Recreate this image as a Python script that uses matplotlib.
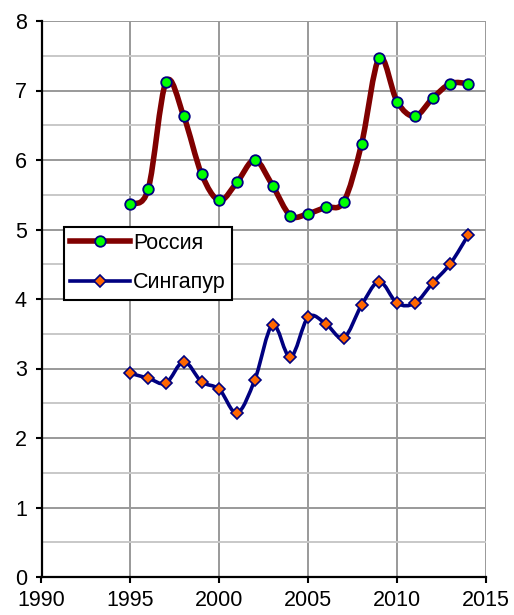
import numpy as np
import matplotlib
matplotlib.use("Agg")
import matplotlib.pyplot as plt
from matplotlib.path import Path
from matplotlib.patches import PathPatch
from matplotlib.lines import Line2D
from matplotlib.ticker import MultipleLocator

plt.rcParams['font.family'] = ['Liberation Sans', 'DejaVu Sans']

years = list(range(1995, 2015))
russia = [5.37, 5.58, 7.12, 6.63, 5.80, 5.42, 5.68, 6.00, 5.63, 5.20,
          5.23, 5.32, 5.40, 6.23, 7.47, 6.84, 6.63, 6.89, 7.10, 7.10]
singapore = [2.93, 2.86, 2.79, 3.10, 2.81, 2.70, 2.36, 2.84, 3.63, 3.16,
             3.74, 3.64, 3.44, 3.91, 4.25, 3.94, 3.94, 4.23, 4.51, 4.92]
series_names = ['Россия', 'Сингапур']


def smooth_path(x, y):
    """Cubic Bezier path through the points (Catmull-Rom style smoothing)."""
    pts = np.column_stack([x, y]).astype(float)
    n = len(pts)
    verts = [pts[0]]
    codes = [Path.MOVETO]
    for i in range(n - 1):
        p0 = pts[i - 1] if i > 0 else pts[i]
        p1 = pts[i]
        p2 = pts[i + 1]
        p3 = pts[i + 2] if i + 2 < n else pts[i + 1]
        c1 = p1 + (p2 - p0) / 6.0
        c2 = p2 - (p3 - p1) / 6.0
        verts += [c1, c2, p2]
        codes += [Path.CURVE4] * 3
    return Path(verts, codes)


fig = plt.figure(figsize=(5.14, 6.15), dpi=100)
ax = fig.add_axes([41.5 / 514, 1 - 577 / 615, 444.5 / 514, 556 / 615])

FS = 15.5

ax.set_xlim(1990, 2015)
ax.set_ylim(0, 8)
ax.xaxis.set_major_locator(MultipleLocator(5))
ax.yaxis.set_major_locator(MultipleLocator(1))
ax.yaxis.set_minor_locator(MultipleLocator(0.5))
ax.grid(which='major', axis='both', color='#999999', lw=1.4)
ax.grid(which='minor', axis='y', color='#c8c8c8', lw=1.4)
ax.set_axisbelow(True)
ax.tick_params(axis='y', which='minor', length=0)
ax.tick_params(which='major', direction='out', length=4.5, width=1.5,
               labelsize=FS, colors='black')
ax.tick_params(axis='x', pad=4.5)
ax.tick_params(axis='y', pad=6)
for s in ['top', 'right']:
    ax.spines[s].set_visible(False)
for s in ['left', 'bottom']:
    ax.spines[s].set_linewidth(1.6)
    ax.spines[s].set_color('black')
    ax.spines[s].set_zorder(5)

red = '#800000'
navy = '#000080'

ax.add_patch(PathPatch(smooth_path(years, russia), fill=False, ec=red,
                       lw=4.0, capstyle='round', joinstyle='round', zorder=3))
ax.plot(years, russia, ls='none', marker='o', ms=7.6, mfc='#00ff00',
        mec=navy, mew=1.3, zorder=4)

ax.add_patch(PathPatch(smooth_path(years, singapore), fill=False, ec=navy,
                       lw=2.6, capstyle='round', joinstyle='round', zorder=3))
ax.plot(years, singapore, ls='none', marker='D', ms=6.6, mfc='#ff6600',
        mec=navy, mew=1.2, zorder=4)

handles = [
    Line2D([], [], color=red, lw=4.0, marker='o', ms=7.6, mfc='#00ff00',
           mec=navy, mew=1.3),
    Line2D([], [], color=navy, lw=2.6, marker='D', ms=6.6, mfc='#ff6600',
           mec=navy, mew=1.2),
]
leg = ax.legend(handles, series_names, loc='upper left',
                bbox_to_anchor=((64 - 41.5) / 444.5, (577 - 226.5) / 556),
                borderaxespad=0, fontsize=FS, frameon=True, fancybox=False,
                framealpha=1, edgecolor='black', handlelength=2.75,
                handletextpad=0.15, labelspacing=0.85, borderpad=0.3)
leg.get_frame().set_linewidth(1.5)
leg.set_zorder(6)

fig.savefig('out.png', dpi=100)
